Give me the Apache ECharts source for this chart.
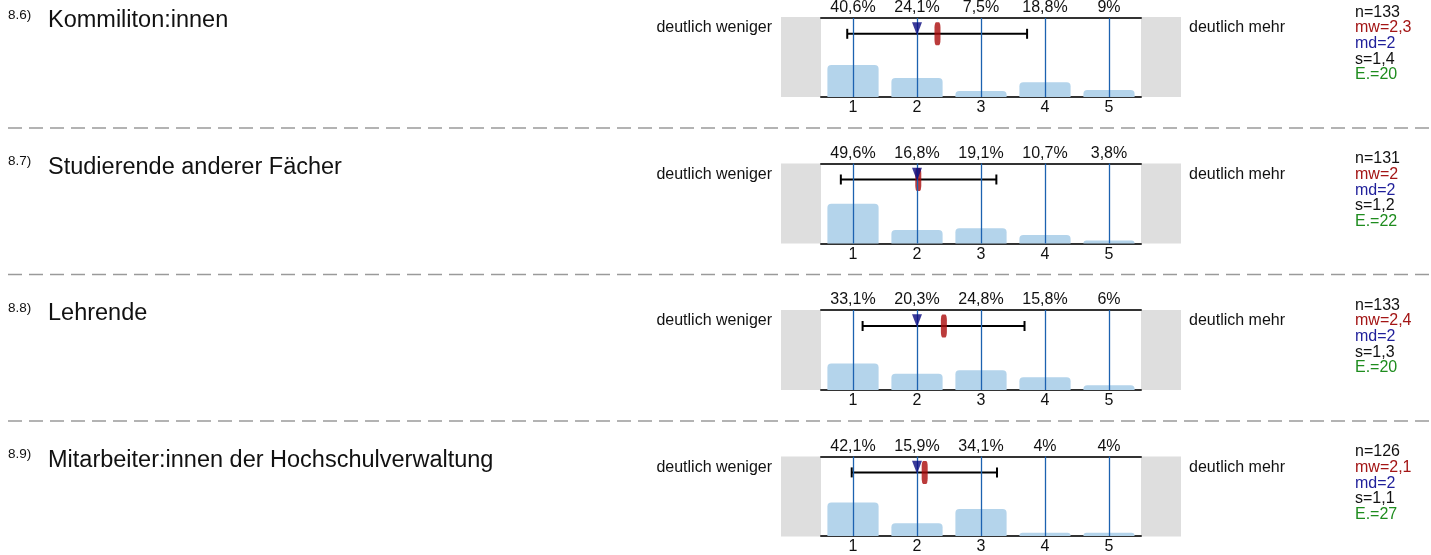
<!DOCTYPE html>
<html>
<head>
<meta charset="utf-8">
<script src="https://cdn.jsdelivr.net/npm/echarts@6/dist/echarts.min.js"></script>
<style>
html,body{margin:0;padding:0;background:#fff;}
#chart{width:1431px;height:555px;}
</style>
</head>
<body>
<div id="chart"></div>
<script>
// ---- data ----
const itemNumbers = ['8.6)', '8.7)', '8.8)', '8.9)'];
const itemTitles = ['Kommiliton:innen', 'Studierende anderer Fächer', 'Lehrende', 'Mitarbeiter:innen der Hochschulverwaltung'];
const categories = ['1', '2', '3', '4', '5'];
const percents1 = [40.6, 24.1, 7.5, 18.8, 9];
const percents2 = [49.6, 16.8, 19.1, 10.7, 3.8];
const percents3 = [33.1, 20.3, 24.8, 15.8, 6];
const percents4 = [42.1, 15.9, 34.1, 4, 4];
const means = [2.32, 2.02, 2.42, 2.12];
const medians = [2, 2, 2, 2];
const errLow = [0.91, 0.81, 1.15, 0.98];
const errHigh = [3.72, 3.24, 3.68, 3.25];
const statN = ['133', '131', '133', '126'];
const statMw = ['2,3', '2', '2,4', '2,1'];
const statMd = ['2', '2', '2', '2'];
const statS = ['1,4', '1,2', '1,3', '1,1'];
const statE = ['20', '22', '20', '27'];
const leftLabel = 'deutlich weniger';
const rightLabel = 'deutlich mehr';

// ---- layout ----
const allPercents = [percents1, percents2, percents3, percents4];
const FONT = "'Liberation Sans', Arial, sans-serif";
const TOP0 = 17, STEP = 146.5, PLOT_LEFT = 821, PLOT_W = 320, PLOT_H = 80;
const ERR_Y = 80, MED_Y = 86.5;
const VLINE = { color: '#1c62b0', width: 1.3, type: 'solid', opacity: 1 };

function fmtPct(v) { return String(v).replace('.', ',') + '%'; }

const grid = [], xAxis = [], yAxis = [], series = [], graphic = [];

allPercents.forEach((pcts, i) => {
  const top = TOP0 + i * STEP;
  grid.push({ left: PLOT_LEFT, top: top, width: PLOT_W, height: PLOT_H });
  xAxis.push({
    type: 'category', gridIndex: i, data: categories, position: 'bottom',
    axisLine: { lineStyle: { color: '#333', width: 2 } },
    axisTick: { show: false }, splitLine: { show: false },
    axisLabel: { color: '#111', fontSize: 16, fontFamily: FONT, margin: 3 }
  });
  xAxis.push({
    type: 'category', gridIndex: i, data: categories, position: 'top',
    axisLine: { lineStyle: { color: '#333', width: 2 } },
    axisTick: { show: false }, splitLine: { show: false },
    axisLabel: { color: '#111', fontSize: 16, fontFamily: FONT, margin: 2,
      formatter: (v, idx) => fmtPct(pcts[idx]) }
  });
  xAxis.push({ type: 'value', gridIndex: i, min: 0.5, max: 5.5, show: false });
  yAxis.push({ type: 'value', gridIndex: i, min: 0, max: 100, show: false });

  series.push({
    type: 'bar', xAxisIndex: 3 * i, yAxisIndex: i, data: pcts, barWidth: '80%',
    itemStyle: { color: '#b4d4eb', borderRadius: [4, 4, 0, 0] },
    emphasis: { disabled: true }, z: 1,
    markLine: {
      silent: true, symbol: ['none', 'none'], label: { show: false },
      lineStyle: VLINE,
      emphasis: { disabled: true },
      data: categories.map(c => ({ xAxis: c, lineStyle: VLINE }))
    }
  });
  series.push({
    type: 'line', xAxisIndex: 3 * i + 2, yAxisIndex: i,
    data: [[errLow[i], ERR_Y], [errHigh[i], ERR_Y]],
    symbol: 'rect', symbolSize: [2, 10], showSymbol: true,
    lineStyle: { color: '#000', width: 2 }, itemStyle: { color: '#000' },
    emphasis: { disabled: true }, z: 3
  });
  series.push({
    type: 'scatter', xAxisIndex: 3 * i + 2, yAxisIndex: i,
    data: [[means[i], ERR_Y]], symbol: 'roundRect', symbolSize: [6, 23],
    itemStyle: { color: '#aa0a0a' }, emphasis: { disabled: true }, z: 4
  });
  series.push({
    type: 'scatter', xAxisIndex: 3 * i + 2, yAxisIndex: i,
    data: [[medians[i], MED_Y]], symbol: 'path://M0,0L10,0L5,12Z', symbolSize: [10, 13],
    itemStyle: { color: '#0a0a80' }, emphasis: { disabled: true }, z: 5
  });

  // decorations
  graphic.push({ type: 'rect', shape: { x: PLOT_LEFT - 40, y: top, width: 40, height: PLOT_H }, style: { fill: '#dedede' }, z: -1 });
  graphic.push({ type: 'rect', shape: { x: PLOT_LEFT + PLOT_W, y: top, width: 40, height: PLOT_H }, style: { fill: '#dedede' }, z: -1 });
  if (i < 3) {
    graphic.push({ type: 'line', shape: { x1: 8, y1: top + 111, x2: 1431, y2: top + 111 },
      style: { stroke: '#9a9a9a', lineWidth: 1.5, lineDash: [14, 7] } });
  }
  const txt = (text, x, y, size, color, align) => ({
    type: 'text', x: x, y: y,
    style: { text: text, font: size + 'px ' + FONT, fill: color, align: align || 'left', textAlign: align || 'left', verticalAlign: 'middle', textVerticalAlign: 'middle' }
  });
  graphic.push(txt(itemNumbers[i], 8, top - 2, 13.5, '#111'));
  graphic.push(txt(itemTitles[i], 48, top + 4, 23.5, '#111'));
  graphic.push(txt(leftLabel, PLOT_LEFT - 49, top + 11, 16, '#111', 'right'));
  graphic.push(txt(rightLabel, PLOT_LEFT + PLOT_W + 48, top + 11, 16, '#111'));
  const statLines = [
    ['n=' + statN[i], '#111'],
    ['mw=' + statMw[i], '#a31515'],
    ['md=' + statMd[i], '#1f1f9a'],
    ['s=' + statS[i], '#111'],
    ['E.=' + statE[i], '#1e8c1e']
  ];
  statLines.forEach((s, k) => graphic.push(txt(s[0], 1355, top - 4.6 + k * 15.6, 16, s[1])));
});

const chart = echarts.init(document.getElementById('chart'), null, { renderer: 'canvas' });
chart.setOption({
  animation: false,
  backgroundColor: '#fff',
  grid: grid, xAxis: xAxis, yAxis: yAxis, series: series, graphic: graphic
});
</script>
</body>
</html>
